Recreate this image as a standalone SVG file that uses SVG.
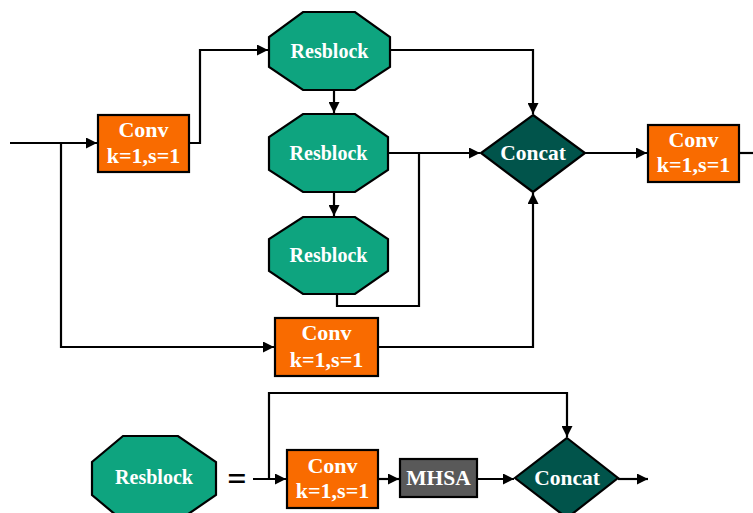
<svg xmlns="http://www.w3.org/2000/svg" width="753" height="513" viewBox="0 0 753 513">
<defs>
<marker id="ah" viewBox="0 0 10 10" refX="10" refY="5" markerWidth="11" markerHeight="11" markerUnits="userSpaceOnUse" orient="auto">
<path d="M0,0 L10,5 L0,10 z" fill="#000"/>
</marker>
<style>
.conv{fill:#F96B00;stroke:#000;stroke-width:2.2}
.res{fill:#0EA47F;stroke:#000;stroke-width:2.2}
.cat{fill:#01544B;stroke:#000;stroke-width:2.2}
.mhsa{fill:#595959;stroke:#000;stroke-width:2.2}
.t{font-family:"Liberation Serif","Times New Roman",serif;font-weight:bold;fill:#fff;text-anchor:middle}
.w{fill:none;stroke:#000;stroke-width:2.2}
.a{marker-end:url(#ah)}
</style>
</defs>
<rect width="753" height="513" fill="#fff"/>
<g id="connectors">
<path class="w a" d="M10,143 H97"/>
<path class="w a" d="M189,143 H200 V50 H268"/>
<path class="w a" d="M334,90 V113"/>
<path class="w a" d="M334,192 V216"/>
<path class="w a" d="M390,50 H533 V114"/>
<path class="w a" d="M388,153 H480"/>
<path class="w" d="M337,294 V306 H419 V153"/>
<path class="w a" d="M61,143 V347 H274"/>
<path class="w a" d="M378,347 H533 V193"/>
<path class="w a" d="M585,153 H647"/>
<path class="w" d="M739,153 H753"/>
<path class="w a" d="M253,479 H286"/>
<path class="w a" d="M269,479 V393 H567 V437"/>
<path class="w a" d="M378,479 H399"/>
<path class="w a" d="M477,479 H514"/>
<path class="w a" d="M618,479 H648"/>
</g>
<g id="conv1">
<rect class="conv" x="98" y="115" width="91" height="57"/>
<text class="t" x="143.5" y="137" font-size="22">Conv</text>
<text class="t" x="143.5" y="163" font-size="22">k=1,s=1</text>
</g>
<g id="resblock1">
<polygon class="res" points="303,12 355,12 390,37 390,67 355,90 303,90 269,67 269,37"/>
<text class="t" x="329.5" y="58" font-size="20">Resblock</text>
</g>
<g id="resblock2">
<polygon class="res" points="303,114 355,114 388,137 388,170 355,192 303,192 269,170 269,137"/>
<text class="t" x="328.5" y="160" font-size="20">Resblock</text>
</g>
<g id="resblock3">
<polygon class="res" points="303,217 355,217 388,239 388,271 355,294 303,294 269,271 269,239"/>
<text class="t" x="328.5" y="262" font-size="20">Resblock</text>
</g>
<g id="concat1">
<polygon class="cat" points="533,115 585,153 533,192 481,153"/>
<text class="t" x="533" y="160" font-size="21.5">Concat</text>
</g>
<g id="conv2">
<rect class="conv" x="648" y="125" width="91" height="57"/>
<text class="t" x="693.5" y="147" font-size="22">Conv</text>
<text class="t" x="693.5" y="172" font-size="22">k=1,s=1</text>
</g>
<g id="conv3">
<rect class="conv" x="275" y="318" width="103" height="58"/>
<text class="t" x="326.5" y="340" font-size="22">Conv</text>
<text class="t" x="326.5" y="367" font-size="22">k=1,s=1</text>
</g>
<g id="resblock-def">
<polygon class="res" points="123,436 178,436 216,462 216,495 178,521 123,521 92,495 92,462"/>
<text class="t" x="154" y="484" font-size="20">Resblock</text>
</g>
<g id="equals">
<text x="237" y="490" font-family="Liberation Serif,serif" font-weight="bold" font-size="34" text-anchor="middle" fill="#000">=</text>
</g>
<g id="conv4">
<rect class="conv" x="287" y="450" width="91" height="58"/>
<text class="t" x="332.5" y="473" font-size="22">Conv</text>
<text class="t" x="332.5" y="498" font-size="22">k=1,s=1</text>
</g>
<g id="mhsa">
<rect class="mhsa" x="400" y="459" width="77" height="38"/>
<text class="t" x="438.5" y="485" font-size="21.5">MHSA</text>
</g>
<g id="concat2">
<polygon class="cat" points="567,438 618,478 567,518 515,478"/>
<text class="t" x="567" y="485" font-size="21.5">Concat</text>
</g>
</svg>
